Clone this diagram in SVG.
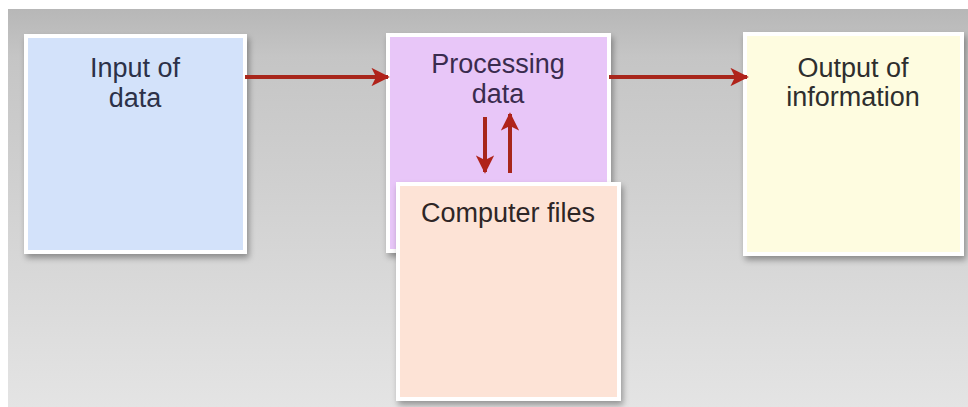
<svg xmlns="http://www.w3.org/2000/svg" width="968" height="407" viewBox="0 0 968 407">
  <defs>
    <linearGradient id="bg" x1="0" y1="0" x2="0" y2="1">
      <stop offset="0" stop-color="#b7b7b7"/>
      <stop offset="0.12" stop-color="#c5c5c5"/>
      <stop offset="0.5" stop-color="#d2d2d2"/>
      <stop offset="1" stop-color="#e4e4e4"/>
    </linearGradient>
    <filter id="shadow" x="-10%" y="-10%" width="125%" height="125%">
      <feGaussianBlur in="SourceAlpha" stdDeviation="3"/>
      <feOffset dx="2" dy="4" result="b"/>
      <feComponentTransfer><feFuncA type="linear" slope="0.35"/></feComponentTransfer>
      <feMerge><feMergeNode/><feMergeNode in="SourceGraphic"/></feMerge>
    </filter>
    <marker id="head" viewBox="0 0 10 10" refX="9" refY="5" markerWidth="5" markerHeight="4.6" markerUnits="strokeWidth" orient="auto">
      <path d="M0,0 L10,5 L0,10 L2.5,5 Z" fill="#b0231a"/>
    </marker>
  </defs>
  <style>
    .box { stroke: #ffffff; stroke-width: 4; filter: url(#shadow); }
    .lbl { font-family: "Liberation Sans", Arial, sans-serif; font-size: 27px; text-anchor: middle; }
    .link { stroke: #a8261b; stroke-width: 4; fill: none; marker-end: url(#head); }
  </style>

  <rect x="0" y="0" width="968" height="407" fill="#ffffff"/>
  <rect x="8" y="9" width="960" height="398" fill="url(#bg)"/>

  <g id="input">
    <rect class="box" x="26" y="36" width="219" height="216" fill="#d3e2fa"/>
    <text class="lbl" x="135" y="77" fill="#2c3148">Input of</text>
    <text class="lbl" x="135" y="107" fill="#2c3148">data</text>
  </g>

  <g id="processing">
    <rect class="box" x="388" y="35" width="221" height="216" fill="#e8c6f8"/>
    <text class="lbl" x="498" y="73" fill="#3a2b4e">Processing</text>
    <text class="lbl" x="498" y="103" fill="#3a2b4e">data</text>
  </g>

  <g id="output">
    <rect class="box" x="745" y="34" width="217" height="220" fill="#fefce0"/>
    <text class="lbl" x="853" y="77" fill="#2e2e2e">Output of</text>
    <text class="lbl" x="853" y="106" fill="#2e2e2e">information</text>
  </g>

  <g id="connectors">
    <line class="link" x1="245" y1="77" x2="388" y2="77"/>
    <line class="link" x1="609" y1="77" x2="747" y2="77"/>
    <line class="link" x1="485" y1="117" x2="485" y2="172"/>
    <line class="link" x1="510" y1="173" x2="510" y2="114"/>
  </g>

  <g id="files">
    <rect class="box" x="398" y="184" width="221" height="215" fill="#fde3d6"/>
    <text class="lbl" x="508" y="222" fill="#2e2626">Computer files</text>
  </g>
</svg>
